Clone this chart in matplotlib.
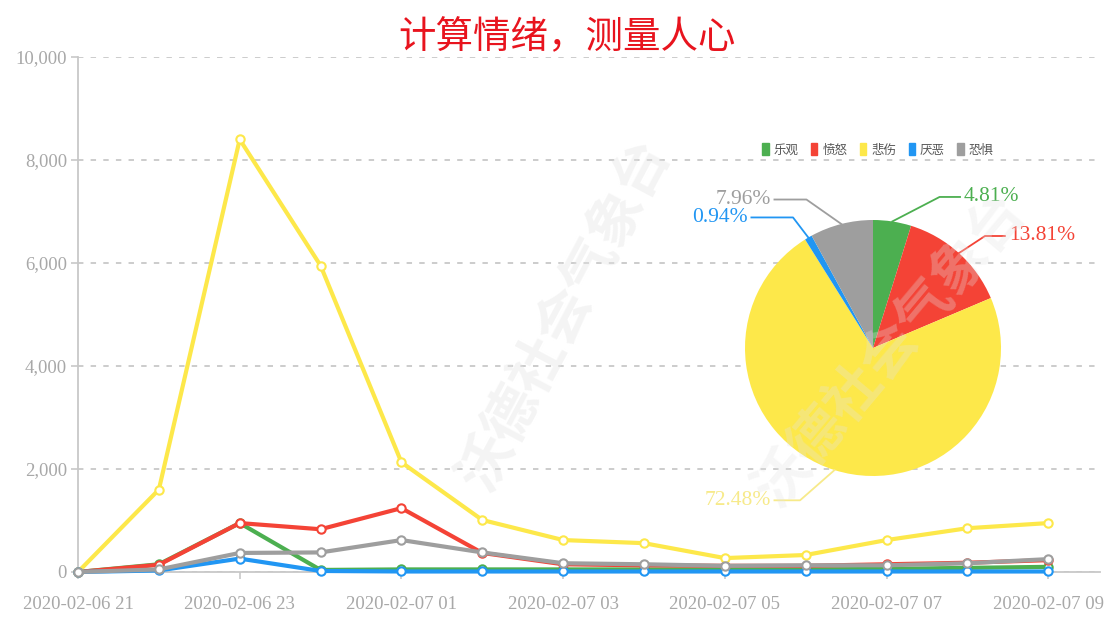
import numpy as np
import matplotlib
matplotlib.use("Agg")
import matplotlib.pyplot as plt
from matplotlib.patches import Patch
from matplotlib.ticker import FuncFormatter

plt.rcParams["font.family"] = ["Noto Sans CJK SC", "DejaVu Sans"]

# ---- data ----
hours = ["2020-02-06 21", "2020-02-06 22", "2020-02-06 23", "2020-02-07 00",
         "2020-02-07 01", "2020-02-07 02", "2020-02-07 03", "2020-02-07 04",
         "2020-02-07 05", "2020-02-07 06", "2020-02-07 07", "2020-02-07 08",
         "2020-02-07 09"]
joy = [0, 150, 950, 40, 50, 50, 50, 50, 50, 50, 60, 80, 100]
anger = [0, 140, 950, 830, 1240, 370, 150, 130, 120, 120, 150, 180, 230]
sadness = [0, 1600, 8400, 5950, 2130, 1010, 620, 560, 270, 330, 620, 850, 950]
disgust = [0, 30, 260, 20, 10, 10, 10, 10, 10, 10, 10, 10, 10]
fear = [0, 50, 370, 380, 620, 380, 170, 150, 120, 130, 130, 170, 250]

emotions = ["乐观", "愤怒", "悲伤", "厌恶", "恐惧"]
shares = [4.81, 13.81, 72.48, 0.94, 7.96]
colors = ["#4caf50", "#f44336", "#fde84a", "#2196f3", "#9e9e9e"]
label_colors = ["#4caf50", "#f44336", "#f7ea8a", "#2196f3", "#9e9e9e"]

series = [joy, anger, sadness, disgust, fear]

fig = plt.figure(figsize=(11.07, 6.23), dpi=100)
W, H = 1107, 623
ax = fig.add_axes([78 / W, (H - 572) / H, (1100 - 78) / W, (572 - 57) / H])

x = np.arange(len(hours))
order = [2, 4, 0, 1, 3]  # draw order: yellow, gray, green, red, blue
for i in order:
    ax.plot(x, series[i], color=colors[i], lw=3.0, marker="o", ms=6,
            mfc="white", mec=colors[i], mew=1.5, clip_on=False, zorder=3 + i)

ax.set_xlim(0, 12.64)
ax.set_ylim(0, 10000)
ax.set_yticks(np.arange(0, 10001, 2000))
ax.yaxis.set_major_formatter(FuncFormatter(lambda v, p: f"{int(v):,}"))
ax.set_xticks(x[::2])
ax.set_xticklabels(hours[::2])
ax.grid(axis="y", ls=(0, (3, 4)), color="#c8c8c8", lw=1.3)
ax.set_axisbelow(True)
for s in ["top", "right"]:
    ax.spines[s].set_visible(False)
for s in ["left", "bottom"]:
    ax.spines[s].set_color("#c8c8c8")
    ax.spines[s].set_linewidth(1.3)
ax.tick_params(colors="#c8c8c8", labelcolor="#a8a8a8", length=5, width=1.2)
ax.tick_params(axis="y", pad=3)
ax.tick_params(axis="x", pad=12)
for t in ax.get_xticklabels() + ax.get_yticklabels():
    t.set_family(["Liberation Serif", "DejaVu Serif"])
    t.set_fontsize(13.5)

fig.text(567 / W, (H - 38) / H, "计算情绪，测量人心", color="#e8141e",
         fontsize=27, ha="center", va="center")

# watermark
fig.text(565 / W, (H - 315) / H, "沃德社会气象台", color="#e4e4e4", alpha=0.4,
         fontsize=40, rotation=62, ha="center", va="center", fontweight="bold")
fig.text(890 / W, (H - 350) / H, "沃德社会气象台", color="#e4e4e4", alpha=0.3,
         fontsize=40, rotation=50, ha="center", va="center", fontweight="bold")

# ---- pie ----
R = 128
cx, cy = 873, 348
pax = fig.add_axes([(cx - R) / W, (H - cy - R) / H, 2 * R / W, 2 * R / H])
wedges, _ = pax.pie(shares, colors=colors, startangle=90, counterclock=False,
                    radius=1.0, wedgeprops=dict(lw=0))
pax.set_xlim(-1, 1)
pax.set_ylim(-1, 1)
pax.set_aspect("equal")
pax.axis("off")

# (elbow x, label y, line end x) in pie radius units
leaders = [(0.52, 1.18, 0.68), (0.875, 0.875, 1.03), (-0.57, -1.19, -0.77),
           (-0.625, 1.02, -0.95), (-0.52, 1.16, -0.77)]
for w, s, c, lc, (ex, ey, lx) in zip(wedges, shares, colors, label_colors, leaders):
    ang = np.deg2rad((w.theta1 + w.theta2) / 2)
    px, py = np.cos(ang), np.sin(ang)
    pax.plot([px, ex, lx], [py, ey, ey], color=lc, lw=1.3, clip_on=False)
    ha = "left" if lx > 0 else "right"
    pax.text(lx + (0.03 if lx > 0 else -0.03), ey, f"{s:.2f}%", color=lc,
             fontsize=15.5, ha=ha, va="center",
             family=["Liberation Serif", "DejaVu Serif"])

handles = [Patch(color=c, label=e) for c, e in zip(colors, emotions)]
fig.legend(handles=handles, loc="center", bbox_to_anchor=(878 / W, (H - 150) / H),
           ncol=5, frameon=False, fontsize=9, handlelength=0.5, handleheight=1.1,
           handletextpad=0.4, columnspacing=1.0, labelcolor="#555555")

fig.savefig("out.png", dpi=100)
